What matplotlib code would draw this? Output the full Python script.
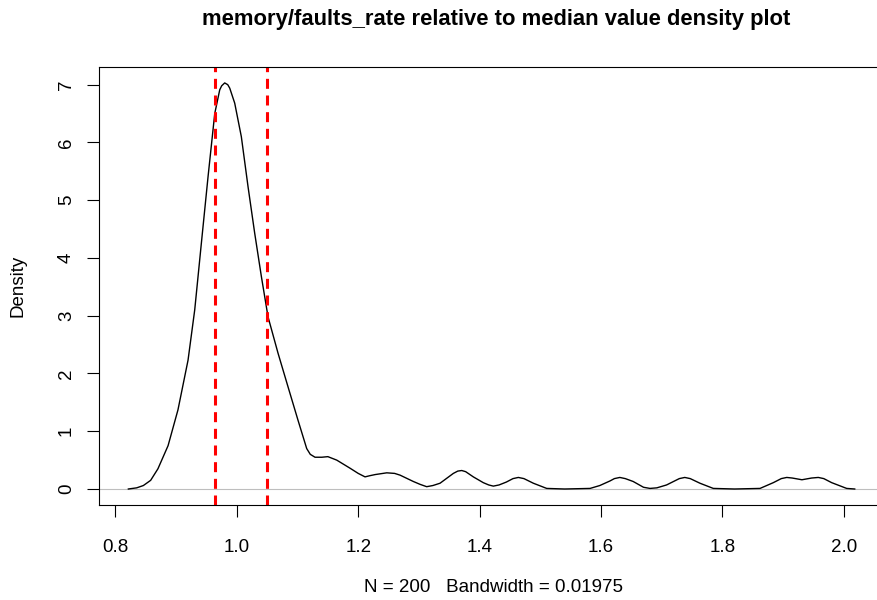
import matplotlib
matplotlib.use("Agg")
import matplotlib.pyplot as plt

# density curve (x = value relative to median, y = density)
dens_x = [0.8213, 0.835, 0.846, 0.858, 0.870, 0.8867, 0.903, 0.9196, 0.9306, 0.9415,
          0.9526, 0.9636, 0.9718, 0.975, 0.980, 0.985, 0.9883, 0.9965, 1.0074, 1.0185,
          1.0294, 1.0404, 1.0514, 1.0679, 1.0843, 1.1008, 1.1151, 1.121, 1.1288, 1.140,
          1.150, 1.1646, 1.1865, 1.200, 1.2112, 1.219, 1.228, 1.247, 1.260, 1.2689,
          1.2908, 1.302, 1.3128, 1.323, 1.3348, 1.3567, 1.364, 1.3705, 1.377, 1.3896,
          1.406, 1.415, 1.4226, 1.432, 1.444, 1.455, 1.4638, 1.473, 1.4885, 1.5105,
          1.540, 1.582, 1.598, 1.6149, 1.622, 1.631, 1.640, 1.653, 1.670, 1.6807,
          1.692, 1.708, 1.729, 1.738, 1.747, 1.763, 1.785, 1.820, 1.862, 1.8839,
          1.897, 1.906, 1.915, 1.931, 1.947, 1.958, 1.967, 1.980, 2.0047, 2.018]
dens_y = [0.00, 0.02, 0.06, 0.15, 0.35, 0.75, 1.37, 2.23, 3.10, 4.25,
          5.41, 6.50, 6.91, 6.98, 7.03, 7.00, 6.94, 6.68, 6.10, 5.23,
          4.43, 3.68, 2.98, 2.35, 1.77, 1.19, 0.70, 0.60, 0.55, 0.55,
          0.56, 0.50, 0.36, 0.27, 0.21, 0.23, 0.25, 0.28, 0.27, 0.24,
          0.13, 0.08, 0.04, 0.06, 0.10, 0.27, 0.31, 0.32, 0.30, 0.21,
          0.11, 0.07, 0.05, 0.07, 0.12, 0.18, 0.20, 0.18, 0.10, 0.01,
          0.00, 0.01, 0.06, 0.14, 0.18, 0.20, 0.18, 0.13, 0.03, 0.01,
          0.02, 0.07, 0.18, 0.20, 0.18, 0.10, 0.01, 0.00, 0.01, 0.11,
          0.18, 0.20, 0.19, 0.16, 0.19, 0.20, 0.18, 0.11, 0.01, 0.00]

ref_lines = [0.9646, 1.0493]
xticks = [0.8, 1.0, 1.2, 1.4, 1.6, 1.8, 2.0]
yticks = [0, 1, 2, 3, 4, 5, 6, 7]

plt.rcParams['font.family'] = ['Liberation Sans', 'DejaVu Sans']
plt.rcParams['lines.scale_dashes'] = False

fig = plt.figure(figsize=(8.78, 6.0), dpi=100)
# plot region runs a little past the right edge of the image, as in the reference
ax = fig.add_axes([99.3 / 878, 95 / 600, (883.8 - 99.3) / 878, (505 - 66.7) / 600])

ax.axhline(0, color="#bebebe", lw=0.8)
ax.plot(dens_x, dens_y, color="black", lw=1.0)
for v in ref_lines:
    ax.axvline(v, color="red", lw=2.2, dashes=(7.2, 4.8))

ax.set_xlim(0.7734, 2.0659)
ax.set_ylim(-0.277, 7.311)
ax.set_xticks(xticks)
ax.set_xticklabels(["%.1f" % t for t in xticks])
ax.set_yticks(yticks)
ax.set_yticklabels([str(t) for t in yticks], rotation=90, va="center")
ax.tick_params(axis="both", length=8.6, width=0.8, labelsize=13.5, direction="out")
ax.tick_params(axis="y", pad=9)
ax.tick_params(axis="x", pad=16)
for s in ax.spines.values():
    s.set_linewidth(0.8)

fig.text(496 / 878, 1 - 20 / 600,
         "memory/faults_rate relative to median value density plot",
         ha="center", va="center", fontsize=15.8, fontweight="bold")
fig.text(493 / 878, 1 - 587 / 600, "N = 200   Bandwidth = 0.01975",
         ha="center", va="center", fontsize=13.5)
fig.text(18 / 878, 1 - 286 / 600, "Density", rotation=90, ha="center", va="center",
         fontsize=13.5)

fig.savefig("out.png", dpi=100)
